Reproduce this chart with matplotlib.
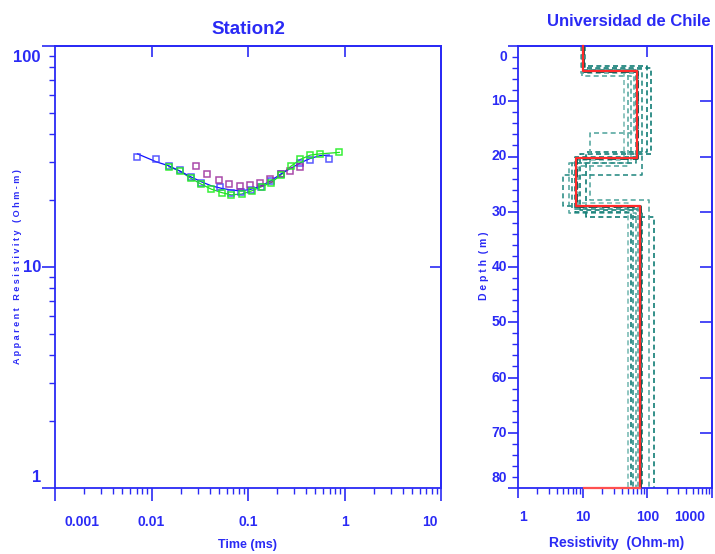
import numpy as np
import matplotlib
matplotlib.use("Agg")
import matplotlib.pyplot as plt
from matplotlib import font_manager
from matplotlib.ticker import LogLocator, MultipleLocator, NullFormatter, NullLocator, FixedLocator

_names = {f.name for f in font_manager.fontManager.ttflist}
_fams = [n for n in ['Liberation Sans Narrow', 'DejaVu Sans Condensed', 'Liberation Sans']
         if n in _names] + ['DejaVu Sans']
plt.rcParams['font.family'] = _fams
plt.rcParams['font.weight'] = 'bold'

BLUE = '#2a2af5'

# ---------------- TEM sounding (left panel) ----------------
t_blue = [0.00716, 0.01125, 0.0151, 0.0196, 0.0255, 0.0328, 0.0507, 0.067,
          0.0851, 0.108, 0.137, 0.174, 0.220, 0.349, 0.443, 0.695]
rho_blue = [31.6, 30.7, 28.7, 27.5, 25.5, 23.9, 22.9, 21.6,
            21.9, 22.3, 23.1, 24.6, 26.3, 29.6, 30.5, 30.7]

t_green = [0.0151, 0.0196, 0.0255, 0.0328, 0.0417, 0.0536, 0.067, 0.0863, 0.109,
           0.139, 0.174, 0.220, 0.279, 0.349, 0.443, 0.557, 0.883]
rho_green = [28.4, 27.2, 25.2, 23.7, 22.5, 21.7, 21.2, 21.4, 22.1,
             23.1, 24.1, 26.1, 28.6, 30.7, 32.1, 32.5, 33.0]

t_purple = [0.0292, 0.0379, 0.0495, 0.0634, 0.0817, 0.105, 0.134, 0.171,
            0.220, 0.275, 0.349]
rho_purple = [28.7, 26.4, 24.7, 23.7, 23.3, 23.5, 24.1, 25.0, 26.3, 27.2, 28.3]

t_model = [0.00716, 0.01125, 0.0151, 0.0196, 0.0255, 0.0328, 0.0417, 0.053, 0.067,
           0.0851, 0.108, 0.137, 0.174, 0.220, 0.279, 0.349, 0.443, 0.557, 0.695]
rho_model = [32.5, 29.9, 28.7, 27.2, 25.6, 24.3, 23.3, 22.7, 22.3,
             22.1, 22.5, 23.3, 24.6, 26.4, 28.0, 29.6, 31.0, 31.9, 32.1]

time_ticks = [0.001, 0.01, 0.1, 1, 10]
time_labels = ['0.001', '0.01', '0.1', '1', '10']
rho_ticks = [1, 10, 100]
rho_labels = ['1', '10', '100']

# ---------------- layered models (right panel) ----------------
# each model: layer resistivities (Ohm-m) and interface depths (m)
best_res = [10.0, 70.0, 8.0, 76.0]
best_dep = [4.5, 20.3, 28.9]

equiv_res = [
    [10.5, 114.0, 9.0, 84.0],
    [9.8, 56.0, 6.2, 66.0],
    [10.2, 100.0, 11.4, 127.0],
    [9.5, 62.0, 12.8, 107.0],
    [10.8, 82.0, 4.9, 61.0],
    [9.9, 49.6, 8.5, 73.0],
    [10.3, 72.0, 7.6, 56.0],
    [10.0, 44.0, 8.2, 50.0],
    [9.7, 66.0, 6.8, 80.0],
]
equiv_dep = [
    [4.0, 19.5, 29.7],
    [5.5, 21.1, 30.3],
    [3.6, 19.1, 30.9],
    [4.8, 15.7, 27.8],
    [4.2, 23.3, 28.9],
    [4.5, 21.8, 29.2],
    [4.6, 20.0, 30.0],
    [4.4, 20.6, 28.5],
    [4.3, 21.1, 29.5],
]
equiv_col = ['#117d75', '#5aa9a2', '#117d75', '#5aa9a2', '#2f8f88',
             '#5aa9a2', '#117d75', '#7dbcb6', '#2f8f88']
max_depth = 80.0

res_ticks = [1, 10, 100, 1000]
res_labels = ['1', '10', '100', '1000']
depth_ticks = [0, 10, 20, 30, 40, 50, 60, 70, 80]


def step_profile(res, dep, bottom):
    xs, ys = [], []
    tops = [0.0] + list(dep)
    bots = list(dep) + [bottom]
    for r, a, b in zip(res, tops, bots):
        xs += [r, r]
        ys += [a, b]
    return xs, ys


fig = plt.figure(figsize=(7.15, 5.54), dpi=100)
W, H = 715, 554


def box(l, t, r, b):
    return [l / W, (H - b) / H, (r - l) / W, (b - t) / H]


def style_spines(ax):
    for s in ax.spines.values():
        s.set_color(BLUE)
        s.set_linewidth(1.3)


def xlabel_at(ax, x, s, dx, dy, size):
    ax.annotate(s, xy=(x, 0), xycoords=('data', 'axes fraction'),
                xytext=(dx, dy), textcoords='offset pixels',
                ha='center', va='center', color=BLUE, fontsize=size,
                fontweight='bold', annotation_clip=False)


def ylabel_at(ax, y, s, dx, dy, size):
    ax.annotate(s, xy=(0, y), xycoords=('axes fraction', 'data'),
                xytext=(dx, dy), textcoords='offset pixels',
                ha='right', va='center', color=BLUE, fontsize=size,
                fontweight='bold', annotation_clip=False)


# ---------- left: apparent resistivity curve ----------
ax1 = fig.add_axes(box(55, 46, 441, 488))
ax1.set_xscale('log')
ax1.set_yscale('log')
ax1.set_xlim(0.001, 10)
ax1.set_ylim(1, 100)
style_spines(ax1)

ax1.plot(t_model, rho_model, color='#1010ff', lw=0.9, zorder=3)
ax1.plot(t_green, rho_green, color='#22dd22', lw=0.9, zorder=2)
ax1.plot(t_blue, rho_blue, ls='none', marker='s', ms=4.6, mfc='none',
         mec='#3d3dff', mew=1.1, alpha=0.85, zorder=4)
ax1.plot(t_purple, rho_purple, ls='none', marker='s', ms=4.6, mfc='none',
         mec='#9a2a9a', mew=1.1, alpha=0.85, zorder=4)
ax1.plot(t_green, rho_green, ls='none', marker='s', ms=4.6, mfc='none',
         mec='#22ee22', mew=1.1, alpha=0.9, zorder=5)

ax1.xaxis.set_major_locator(FixedLocator(time_ticks))
ax1.xaxis.set_minor_locator(LogLocator(base=10, subs=np.arange(2, 10), numticks=20))
ax1.yaxis.set_major_locator(FixedLocator(rho_ticks))
ax1.yaxis.set_minor_locator(LogLocator(base=10, subs=np.arange(2, 10), numticks=20))
ax1.xaxis.set_major_formatter(NullFormatter())
ax1.xaxis.set_minor_formatter(NullFormatter())
ax1.yaxis.set_major_formatter(NullFormatter())
ax1.yaxis.set_minor_formatter(NullFormatter())
ax1.tick_params(which='major', direction='out', length=9.5, width=1.2, color=BLUE)
ax1.tick_params(which='minor', direction='out', length=4.3, width=1.0, color=BLUE)

top1 = ax1.secondary_xaxis('top')
top1.set_xticks([0.01, 0.1, 1])
top1.xaxis.set_minor_locator(NullLocator())
top1.tick_params(direction='in', length=8, width=1.2, color=BLUE, labeltop=False)
top1.spines['top'].set_color(BLUE)
top1.spines['top'].set_linewidth(1.3)
right1 = ax1.secondary_yaxis('right')
right1.set_yticks([10])
right1.yaxis.set_minor_locator(NullLocator())
right1.tick_params(direction='in', length=8, width=1.2, color=BLUE, labelright=False)
right1.spines['right'].set_color(BLUE)
right1.spines['right'].set_linewidth(1.3)

for x, s, dx in zip(time_ticks, time_labels, [27, 0, 0, 0, -11]):
    xlabel_at(ax1, x, s, dx, -34, 10)
for y, s, dy in zip(rho_ticks, rho_labels, [10, 0, -11]):
    ylabel_at(ax1, y, s, -14, dy, 12)

ax1.set_title('Station2', color=BLUE, fontsize=13.5, fontweight='bold', pad=9)
fig.text(248 / W, 1 - 545 / H, 'Time (ms)', color=BLUE, fontsize=9,
         fontweight='bold', ha='center', va='center')
fig.text(18 / W, 1 - 267 / H, 'A p p a r e n t   R e s i s t i v i t y   ( O h m - m )',
         color=BLUE, fontsize=6.5, fontweight='bold', rotation=90,
         ha='center', va='center')

# ---------- right: layered resistivity models ----------
ax2 = fig.add_axes(box(518, 46, 712, 488))
ax2.set_xscale('log')
ax2.set_xlim(1, 1000)
ax2.set_ylim(max_depth, 0)
style_spines(ax2)

for res, dep, col in zip(equiv_res, equiv_dep, equiv_col):
    xs, ys = step_profile(res, dep, max_depth)
    ax2.plot(xs, ys, color=col, lw=1.2, ls=(0, (3, 2)), zorder=2)

bx, by = step_profile(best_res, best_dep, max_depth)
ax2.plot(bx, by, color='#0b4f4a', lw=2.0, ls=(0, (3, 1.5)), zorder=3)
ax2.plot(bx, by, color='#ff2a2a', lw=1.6, zorder=4, clip_on=False)
ax2.plot([best_res[0] * 1.05, best_res[-1]], [max_depth, max_depth],
         color='#ff5050', lw=1.6, zorder=4, clip_on=False)

ax2.xaxis.set_major_locator(FixedLocator(res_ticks))
ax2.xaxis.set_minor_locator(LogLocator(base=10, subs=np.arange(2, 10), numticks=20))
ax2.yaxis.set_major_locator(FixedLocator(depth_ticks))
ax2.yaxis.set_minor_locator(MultipleLocator(2))
for a in (ax2.xaxis, ax2.yaxis):
    a.set_major_formatter(NullFormatter())
    a.set_minor_formatter(NullFormatter())
ax2.tick_params(which='major', direction='out', length=7.5, width=1.2, color=BLUE)
ax2.tick_params(which='minor', direction='out', length=4.3, width=1.0, color=BLUE)

top2 = ax2.secondary_xaxis('top')
top2.set_xticks([10, 100])
top2.xaxis.set_minor_locator(NullLocator())
top2.tick_params(direction='in', length=8, width=1.2, color=BLUE, labeltop=False)
top2.spines['top'].set_color(BLUE)
top2.spines['top'].set_linewidth(1.3)
right2 = ax2.secondary_yaxis('right')
right2.set_yticks([10, 20, 30, 40, 50, 60, 70])
right2.yaxis.set_minor_locator(NullLocator())
right2.tick_params(direction='in', length=8.5, width=1.2, color=BLUE, labelright=False)
right2.spines['right'].set_color(BLUE)
right2.spines['right'].set_linewidth(1.3)

for x, s, dx in zip(res_ticks, res_labels, [5, 0, 0, -22]):
    xlabel_at(ax2, x, s, dx, -29, 10)
for y, s in zip(depth_ticks, [str(d) for d in depth_ticks]):
    dy = -11 if y == 0 else (10 if y == 80 else 0)
    ylabel_at(ax2, y, s, -11, dy, 10)

fig.text(711 / W, 1 - 21 / H, 'Universidad de Chile', color=BLUE,
         fontsize=12, fontweight='bold', ha='right', va='center')
fig.text(617 / W, 1 - 543 / H, 'Resistivity  (Ohm-m)', color=BLUE, fontsize=10,
         fontweight='bold', ha='center', va='center')
fig.text(484 / W, 1 - 266 / H, 'D e p t h  ( m )', color=BLUE, fontsize=7.5,
         fontweight='bold', rotation=90, ha='center', va='center')

fig.savefig('out.png', dpi=100)
